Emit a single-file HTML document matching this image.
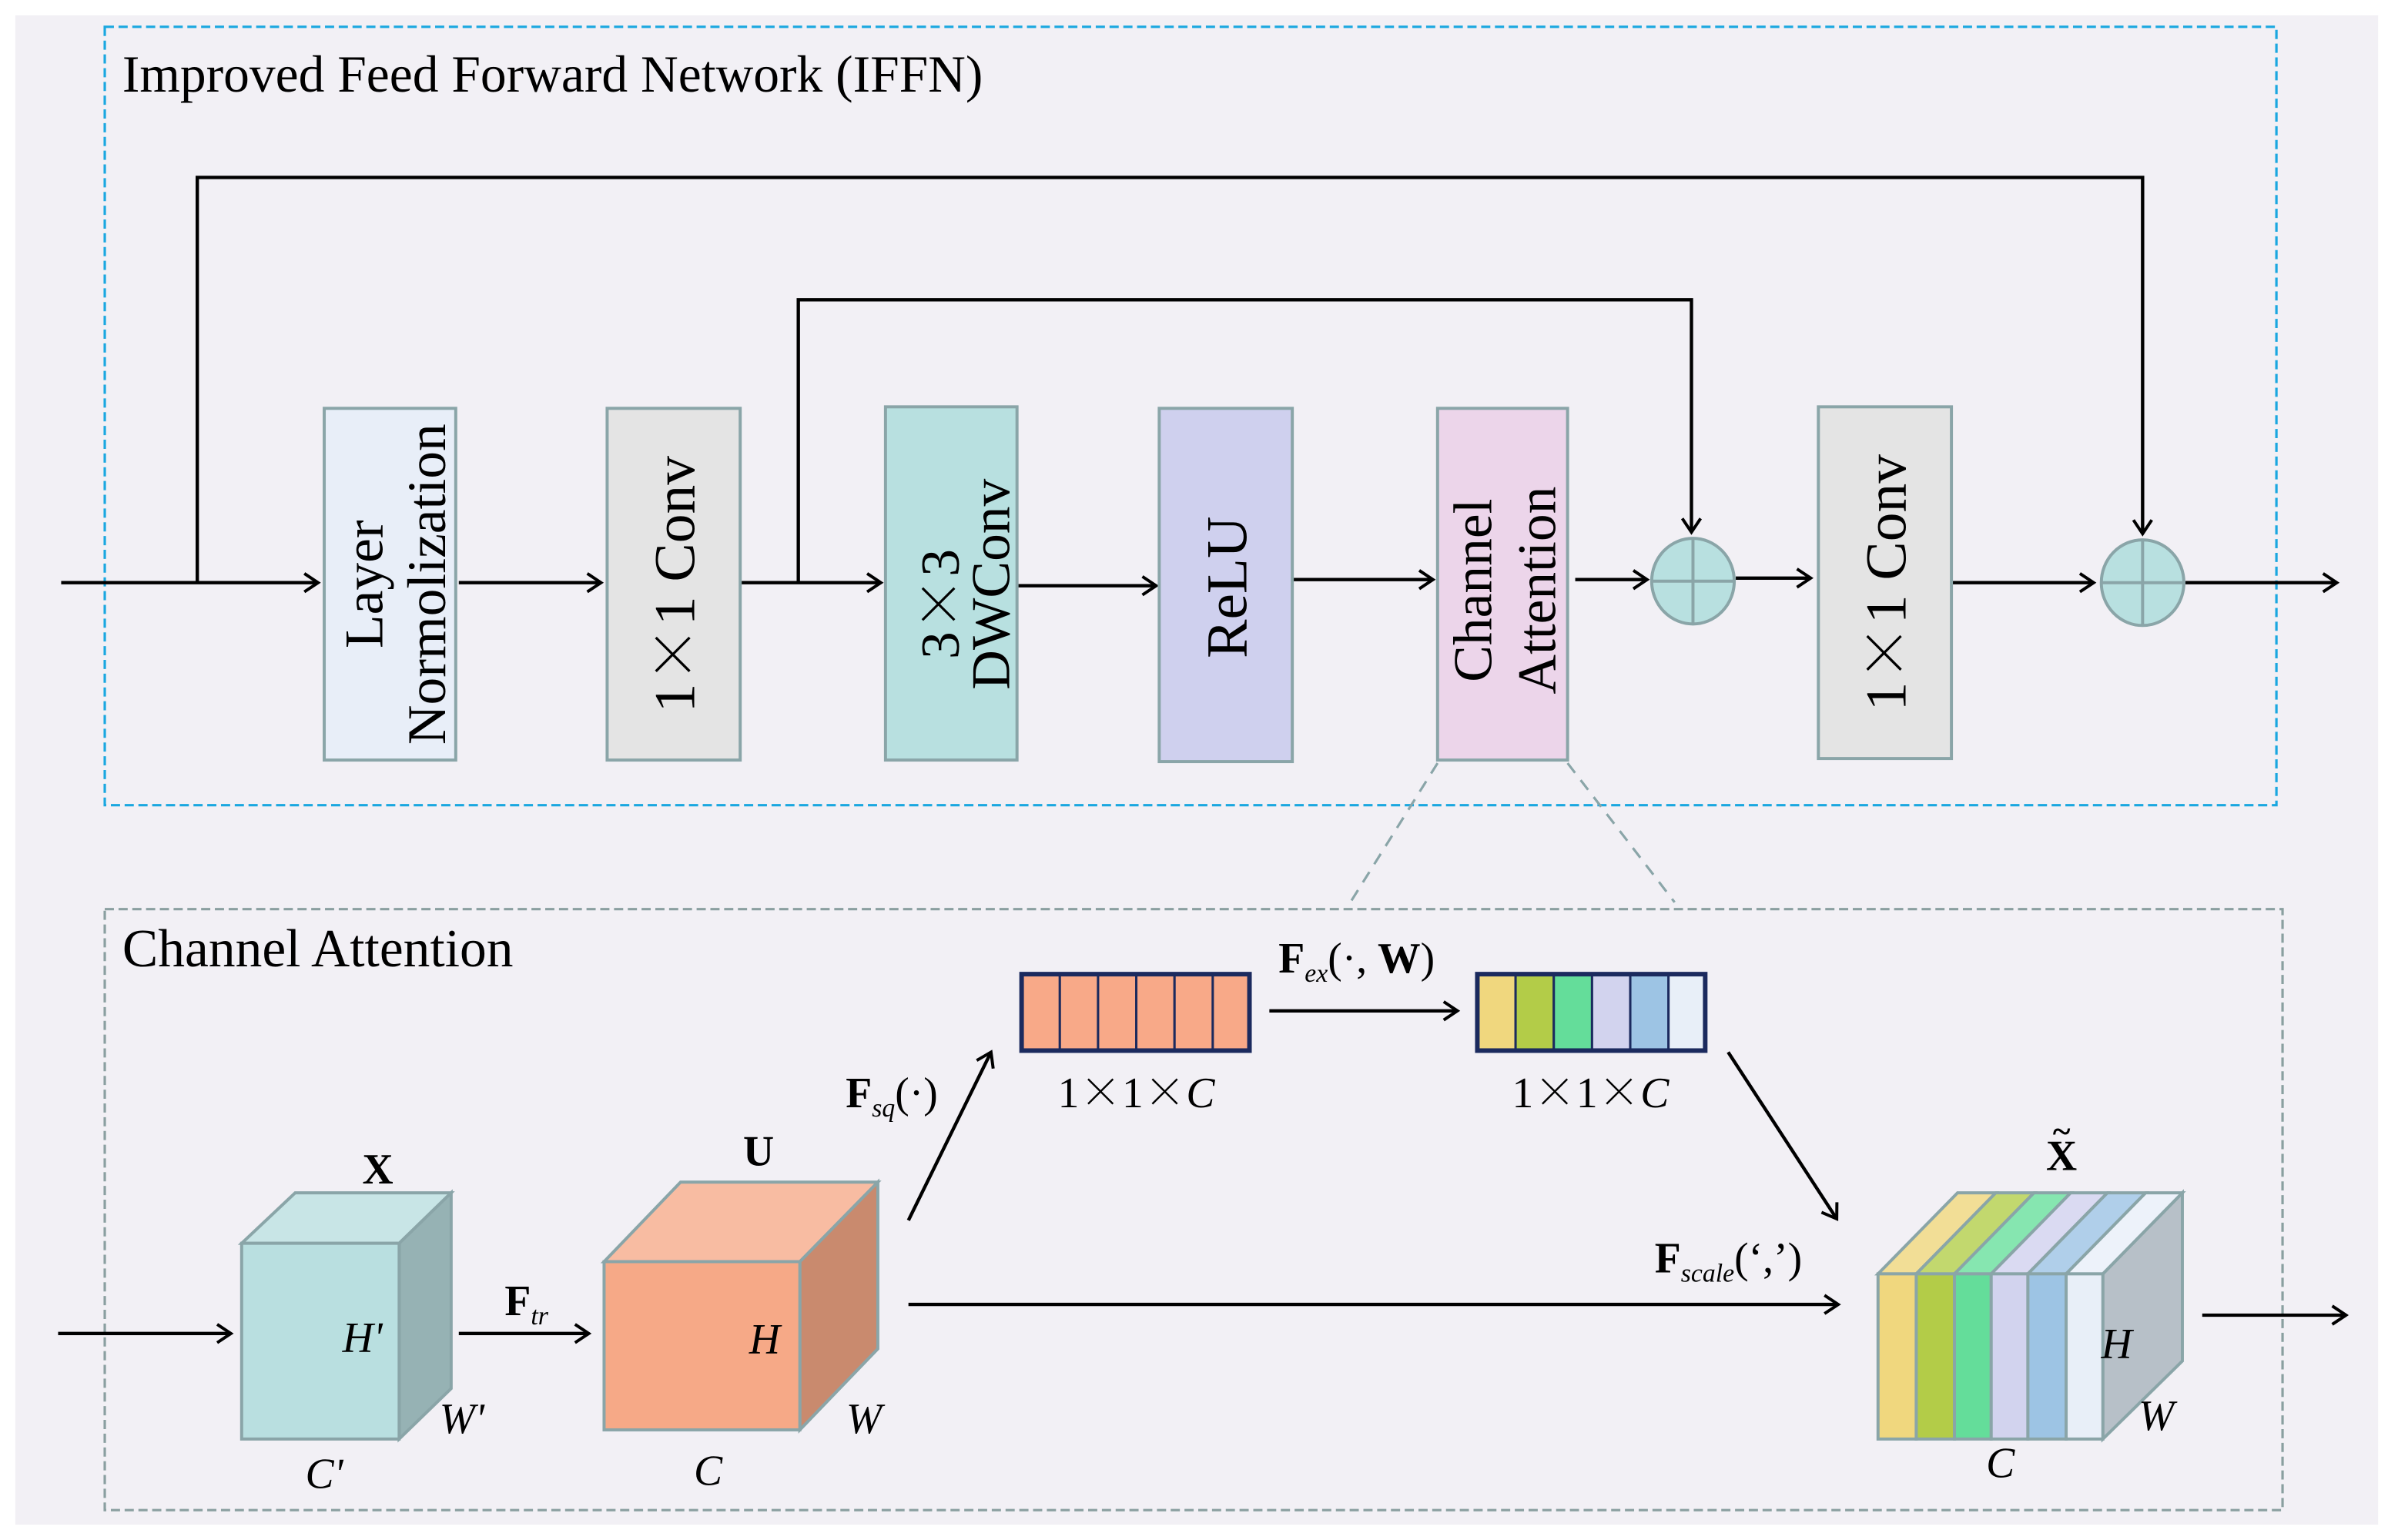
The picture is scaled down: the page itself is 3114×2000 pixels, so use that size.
<!DOCTYPE html>
<html><head><meta charset="utf-8"><style>
html,body{margin:0;padding:0;background:#fff;}
svg{display:block;}
text{font-family:"Liberation Serif",serif;fill:#000;}
.x{font-family:"Noto Serif CJK SC","Noto Sans CJK SC",serif;}
</style></head><body>
<svg width="3114" height="2000" viewBox="0 0 1568 1007" xmlns="http://www.w3.org/2000/svg">
<defs>
<marker id="a" markerWidth="14" markerHeight="14" refX="11" refY="7" orient="auto" markerUnits="userSpaceOnUse">
<path d="M2,1 L11,7 L2,13" fill="none" stroke="#000" stroke-width="2"/>
</marker>
</defs>
<rect x="10" y="10" width="1545" height="987" fill="#f2f0f5"/>
<rect x="68.5" y="17.5" width="1420" height="509" fill="none" stroke="#1aa7e0" stroke-width="1.6" stroke-dasharray="6,3"/>
<text x="80" y="60" font-size="34">Improved Feed Forward Network (IFFN)</text>
<g fill="none" stroke="#000" stroke-width="2.2">
<path d="M40,381 H208" marker-end="url(#a)"/>
<path d="M129,381 V116 H1401 V349" marker-end="url(#a)"/>
<path d="M522,381 V196 H1106 V348" marker-end="url(#a)"/>
<path d="M300,381 H393" marker-end="url(#a)"/>
<path d="M484,381 H576" marker-end="url(#a)"/>
<path d="M665,383 H756" marker-end="url(#a)"/>
<path d="M845,379 H937" marker-end="url(#a)"/>
<path d="M1030,379 H1077" marker-end="url(#a)"/>
<path d="M1135,378 H1184" marker-end="url(#a)"/>
<path d="M1276,381 H1369" marker-end="url(#a)"/>
<path d="M1429,381 H1528" marker-end="url(#a)"/>
</g>
<g stroke="#8aa5a8" stroke-width="2">
<rect x="212" y="267" width="86" height="230" fill="#e8eef8"/>
<rect x="397" y="267" width="87" height="230" fill="#e4e4e4"/>
<rect x="579" y="266" width="86" height="231" fill="#b8e0e0"/>
<rect x="758" y="267" width="87" height="231" fill="#cfd0ee"/>
<rect x="940" y="267" width="85" height="230" fill="#ecd5ea"/>
<rect x="1189" y="266" width="87" height="230" fill="#e4e4e4"/>
<ellipse cx="1107" cy="380" rx="27" ry="28" fill="#b8e0e0"/>
<ellipse cx="1401" cy="381" rx="27" ry="28" fill="#b8e0e0"/>
<path d="M1080,380 H1134 M1107,352 V408 M1374,381 H1428 M1401,353 V409" fill="none"/>
</g>
<g font-size="36">
<text transform="translate(250,382) rotate(-90)" text-anchor="middle">Layer</text>
<text transform="translate(291,382) rotate(-90)" text-anchor="middle">Normolization</text>
<text transform="translate(454,382) rotate(-90)" text-anchor="middle" font-size="38">1<tspan class="x">×</tspan>1 Conv</text>
<text transform="translate(627,395) rotate(-90)" text-anchor="middle">3<tspan class="x">×</tspan>3</text>
<text transform="translate(660,382) rotate(-90)" text-anchor="middle">DWConv</text>
<text transform="translate(815,384) rotate(-90)" text-anchor="middle" font-size="38">ReLU</text>
<text transform="translate(975,386) rotate(-90)" text-anchor="middle">Channel</text>
<text transform="translate(1017,386) rotate(-90)" text-anchor="middle">Attention</text>
<text transform="translate(1246,381) rotate(-90)" text-anchor="middle" font-size="38">1<tspan class="x">×</tspan>1 Conv</text>
</g>
<path d="M940,499 L883,590 M1025,499 L1095,590" stroke="#8aa5a8" stroke-width="1.6" stroke-dasharray="8,6" fill="none"/>
<rect x="68.5" y="594.5" width="1424" height="393" fill="none" stroke="#8a9fa0" stroke-width="1.6" stroke-dasharray="6,3"/>
<text x="80" y="632" font-size="35">Channel Attention</text>
<g stroke="#8aa5a8" stroke-width="2">
<path d="M158,813 L193,780 L295,780 L261,813 Z" fill="#c8e5e6"/>
<path d="M261,813 L295,780 L295,908 L261,941 Z" fill="#96b2b4"/>
<rect x="158" y="813" width="103" height="128" fill="#b9dfe0"/>
</g>
<g font-size="28">
<text x="247" y="774" text-anchor="middle" font-weight="bold">X</text>
<text x="237" y="884" text-anchor="middle" font-style="italic">H'</text>
<text x="302" y="937" text-anchor="middle" font-style="italic">W'</text>
<text x="212" y="973" text-anchor="middle" font-style="italic">C'</text>
</g>
<g fill="none" stroke="#000" stroke-width="2.2">
<path d="M38,872 H151" marker-end="url(#a)"/>
<path d="M300,872 H385" marker-end="url(#a)"/>
<path d="M594,798 L648,688" marker-end="url(#a)"/>
<path d="M830,661 H953" marker-end="url(#a)"/>
<path d="M1130,688 L1201,797" marker-end="url(#a)"/>
<path d="M594,853 H1202" marker-end="url(#a)"/>
<path d="M1440,860 H1534" marker-end="url(#a)"/>
</g>
<text x="330" y="860" font-size="28" font-weight="bold">F<tspan font-size="17" font-style="italic" font-weight="normal" dy="6">tr</tspan></text>
<g stroke="#8aa5a8" stroke-width="2">
<path d="M395,825 L445,773 L574,773 L523,825 Z" fill="#f8bca2"/>
<path d="M523,825 L574,773 L574,882 L523,935 Z" fill="#c98a6e"/>
<rect x="395" y="825" width="128" height="110" fill="#f6a987"/>
</g>
<g font-size="28">
<text x="496" y="762" text-anchor="middle" font-weight="bold">U</text>
<text x="500" y="885" text-anchor="middle" font-style="italic">H</text>
<text x="565" y="937" text-anchor="middle" font-style="italic">W</text>
<text x="463" y="971" text-anchor="middle" font-style="italic">C</text>
</g>
<text x="553" y="724" font-size="28"><tspan font-weight="bold">F</tspan><tspan font-size="17" font-style="italic" dy="6">sq</tspan><tspan dy="-6">(·)</tspan></text>
<text x="836" y="636" font-size="28"><tspan font-weight="bold">F</tspan><tspan font-size="17" font-style="italic" dy="6">ex</tspan><tspan dy="-6">(·, </tspan><tspan font-weight="bold">W</tspan>)</text>
<g stroke="#1b2a5e" stroke-width="1.5">
<rect x="668" y="637" width="25" height="50" fill="#f8a988"/>
<rect x="693" y="637" width="25" height="50" fill="#f8a988"/>
<rect x="718" y="637" width="25" height="50" fill="#f8a988"/>
<rect x="743" y="637" width="25" height="50" fill="#f8a988"/>
<rect x="768" y="637" width="25" height="50" fill="#f8a988"/>
<rect x="793" y="637" width="24" height="50" fill="#f8a988"/>
<rect x="966" y="637" width="25" height="50" fill="#f0d77e"/>
<rect x="991" y="637" width="25" height="50" fill="#b3cc48"/>
<rect x="1016" y="637" width="25" height="50" fill="#64dd9a"/>
<rect x="1041" y="637" width="25" height="50" fill="#d2d3ee"/>
<rect x="1066" y="637" width="25" height="50" fill="#9dc4e4"/>
<rect x="1091" y="637" width="24" height="50" fill="#e8eff8"/>
</g>
<rect x="668" y="637" width="149" height="50" fill="none" stroke="#1b2a5e" stroke-width="3"/>
<rect x="966" y="637" width="149" height="50" fill="none" stroke="#1b2a5e" stroke-width="3"/>
<text x="743" y="724" font-size="28" text-anchor="middle">1<tspan class="x">×</tspan>1<tspan class="x">×</tspan><tspan font-style="italic">C</tspan></text>
<text x="1040" y="724" font-size="28" text-anchor="middle">1<tspan class="x">×</tspan>1<tspan class="x">×</tspan><tspan font-style="italic">C</tspan></text>
<text x="1082" y="832" font-size="28"><tspan font-weight="bold">F</tspan><tspan font-size="17" font-style="italic" dy="6">scale</tspan><tspan dy="-6">(‘,’)</tspan></text>
<g stroke="#8aa5a8" stroke-width="2">
<path d="M1375,833 L1427,780 L1427,890 L1375,941 Z" fill="#b7c0c8"/>
<path d="M1228,833 L1280,780 L1305,780 L1253,833 Z" fill="#f2de96"/>
<path d="M1253,833 L1305,780 L1330,780 L1278,833 Z" fill="#c2d86e"/>
<path d="M1278,833 L1330,780 L1354,780 L1302,833 Z" fill="#86e6b0"/>
<path d="M1302,833 L1354,780 L1378,780 L1326,833 Z" fill="#dadaf2"/>
<path d="M1326,833 L1378,780 L1403,780 L1351,833 Z" fill="#b0cfea"/>
<path d="M1351,833 L1403,780 L1427,780 L1375,833 Z" fill="#edf2fa"/>
<rect x="1228" y="833" width="25" height="108" fill="#f0d77e"/>
<rect x="1253" y="833" width="25" height="108" fill="#b3cc48"/>
<rect x="1278" y="833" width="24" height="108" fill="#64dd9a"/>
<rect x="1302" y="833" width="24" height="108" fill="#d2d3ee"/>
<rect x="1326" y="833" width="25" height="108" fill="#9dc4e4"/>
<rect x="1351" y="833" width="24" height="108" fill="#e8eff8"/>
</g>
<g font-size="28">
<text x="1348" y="765" text-anchor="middle" font-weight="bold">X</text>
<text x="1348" y="747" text-anchor="middle" font-weight="bold" font-size="22">~</text>
<text x="1384" y="888" text-anchor="middle" font-style="italic">H</text>
<text x="1410" y="935" text-anchor="middle" font-style="italic">W</text>
<text x="1308" y="966" text-anchor="middle" font-style="italic">C</text>
</g>
</svg>
</body></html>
